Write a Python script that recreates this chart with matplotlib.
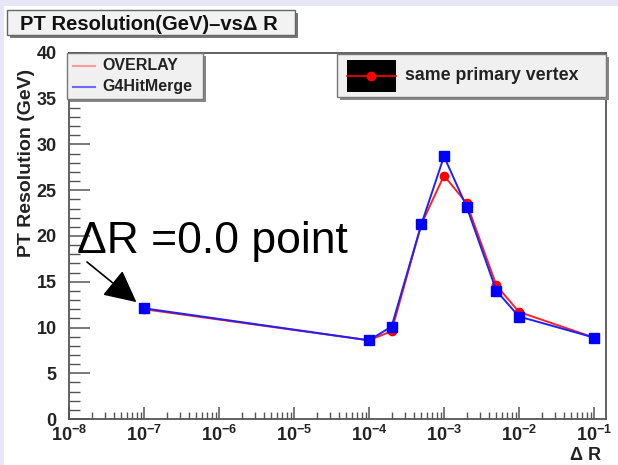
import numpy as np
import matplotlib
matplotlib.use("Agg")
import matplotlib.pyplot as plt
from matplotlib.patches import Rectangle
from matplotlib.lines import Line2D
from matplotlib.ticker import MultipleLocator, LogLocator, FuncFormatter, NullFormatter

plt.rcParams["font.family"] = ["Liberation Sans", "DejaVu Sans"]
plt.rcParams["mathtext.fontset"] = "custom"
plt.rcParams["mathtext.rm"] = "Liberation Sans:bold"
plt.rcParams["mathtext.bf"] = "Liberation Sans:bold"
plt.rcParams["mathtext.it"] = "Liberation Sans:bold"

# Delta R values and PT resolution for the two samples
delta_r = [1e-7, 1e-4, 2e-4, 5e-4, 1e-3, 2e-3, 5e-3, 1e-2, 1e-1]
overlay = [12.0, 8.6, 9.6, 21.3, 26.6, 23.6, 14.6, 11.7, 8.9]
g4hitmerge = [12.1, 8.6, 10.1, 21.3, 28.7, 23.2, 14.0, 11.2, 8.9]

title = "PT Resolution(GeV)–vsΔ R"
ylabel = "PT Resolution (GeV)"
xlabel = "Δ R"
legend_labels = ["OVERLAY", "G4HitMerge"]
vertex_label = "same primary vertex"
note_text = "ΔR =0.0 point"

W, H = 618, 465
fig = plt.figure(figsize=(W / 100, H / 100), dpi=100, facecolor="white")


def fx(x):
    return x / W


def fy(y):
    return 1 - y / H


def box(x0, y0, x1, y1, **kw):
    r = Rectangle((fx(x0), fy(y1)), fx(x1) - fx(x0), fy(y0) - fy(y1),
                  transform=fig.transFigure, **kw)
    fig.add_artist(r)
    return r


# lavender canvas edges
box(0, 0, W, 6, facecolor="#e6e6f7", edgecolor="none", zorder=0)
box(0, 0, 4, H, facecolor="#e6e6f7", edgecolor="none", zorder=0)

ax = fig.add_axes([fx(69), fy(419), fx(606) - fx(69), fy(53) - fy(419)])
ax.set_xscale("log")
ax.set_xlim(1e-8, 10 ** -0.84)
ax.set_ylim(0, 40)

ax.plot(delta_r, overlay, color="#ff2020", lw=1.4, marker="o", ms=6,
        mfc="#ff0000", mec="#ff0000", zorder=3)
ax.plot(delta_r, g4hitmerge, color="#2020ff", lw=1.4, marker="s", ms=7,
        mfc="#0000ff", mec="#0000ff", zorder=4)

for s in ax.spines.values():
    s.set_color("#555555")
    s.set_linewidth(1.3)

ax.yaxis.set_major_locator(MultipleLocator(5))
ax.yaxis.set_minor_locator(MultipleLocator(1))
ax.xaxis.set_major_locator(LogLocator(base=10, numticks=20))
ax.xaxis.set_minor_locator(LogLocator(base=10, subs=np.arange(2, 10), numticks=20))
ax.xaxis.set_minor_formatter(NullFormatter())
ax.xaxis.set_major_formatter(FuncFormatter(
    lambda v, p: r"$\mathbf{10^{%d}}$" % int(round(np.log10(v)))))
ax.yaxis.set_major_formatter(FuncFormatter(lambda v, p: "%d" % v))

ax.tick_params(axis="y", which="major", direction="in", length=15, width=1.1,
               color="#555555", labelsize=13, pad=9)
ax.tick_params(axis="y", which="minor", direction="in", length=8, width=1.0,
               color="#555555")
ax.tick_params(axis="x", which="major", direction="in", length=9, width=1.1,
               color="#555555", labelsize=13, pad=4)
ax.tick_params(axis="x", which="minor", direction="in", length=5, width=1.0,
               color="#555555")
for lab in ax.get_yticklabels() + ax.get_xticklabels():
    lab.set_fontweight("bold")
    lab.set_color("#222222")

ax.set_ylabel(ylabel, fontsize=14, fontweight="bold", color="#222222")
ax.yaxis.set_label_coords(-0.064, 0.70)
fig.text(fx(601), fy(460), xlabel, ha="right", va="baseline", fontsize=13,
         fontweight="bold", color="#222222")

# title box
box(10, 13, 298, 38, facecolor="#777777", edgecolor="none", zorder=1)
box(7, 10, 295, 35, facecolor="#f2f2f2", edgecolor="#666666", lw=1.0, zorder=2)
fig.text(fx(20), fy(30), title, ha="left", va="baseline", fontsize=14.5,
         fontweight="bold", color="#111111", zorder=3)

# legend for the two samples
box(70, 56, 206, 102, facecolor="#888888", edgecolor="none", zorder=5)
box(67, 53, 203, 99, facecolor="#f0f0f0", edgecolor="#777777", lw=1.0, zorder=6)
handles = [Line2D([fx(73), fx(95)], [fy(66), fy(66)], color="#ff9a9a", lw=1.5),
           Line2D([fx(73), fx(95)], [fy(87), fy(87)], color="#6a6aff", lw=1.5)]
for h, lab, yy in zip(handles, legend_labels, [66, 87]):
    h.set_transform(fig.transFigure)
    h.set_zorder(7)
    fig.add_artist(h)
    fig.text(fx(102), fy(yy), lab, ha="left", va="center", fontsize=11.5,
             fontweight="bold", color="#222222", zorder=7)

# legend for the vertex marker
box(340, 57, 609, 100, facecolor="#888888", edgecolor="none", zorder=5)
box(337, 54, 606, 97, facecolor="#f0f0f0", edgecolor="#777777", lw=1.0, zorder=6)
box(347, 60, 396, 92, facecolor="black", edgecolor="none", zorder=7)
vline = Line2D([fx(347), fx(396)], [fy(76), fy(76)], color="#ff0000", lw=1.2,
               transform=fig.transFigure, zorder=8)
vdot = Line2D([fx(371)], [fy(76)], color="#ff0000", marker="o", ms=6, lw=0,
              transform=fig.transFigure, zorder=9)
fig.add_artist(vline)
fig.add_artist(vdot)
fig.text(fx(405), fy(76), vertex_label, ha="left", va="center", fontsize=12.8,
         fontweight="bold", color="#222222", zorder=8)

# annotation pointing at the smallest Delta R point
ax.annotate("", xy=(delta_r[0], g4hitmerge[0]), xycoords="data",
            xytext=(fx(87), fy(262)), textcoords="figure fraction",
            arrowprops=dict(arrowstyle="-|>,head_length=2.0,head_width=1.0",
                            color="black", lw=1.2, shrinkA=0, shrinkB=7),
            zorder=10)
fig.text(fx(77), fy(253), note_text, ha="left", va="baseline", fontsize=32,
         color="black", zorder=10)

fig.savefig("out.png", dpi=100, facecolor="white")
